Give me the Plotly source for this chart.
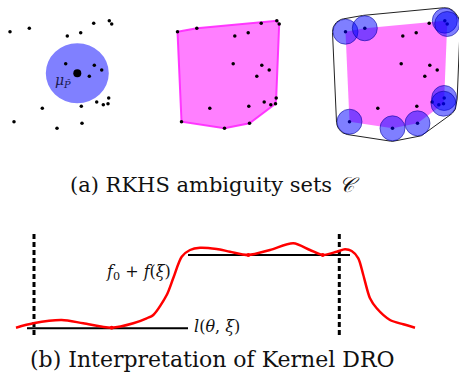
import numpy as np
import plotly.graph_objects as go

W, H = 459, 373

# ---- data: sample points (panel-1 coordinates, pixels) ----
pts_x = [10, 29.3, 67.3, 80.7, 93.7, 109.3, 111.7, 65.7, 94.3, 101.7, 89.3,
         96.7, 108.7, 103.3, 108, 81.3, 42.3, 14, 57, 82]
pts_y = [31.7, 28.3, 36, 32.7, 23.3, 20.7, 24, 63.7, 65.3, 70, 76.3,
         102, 98, 104.7, 103.7, 106.3, 108.3, 121.7, 128.3, 123.3]
mean_x, mean_y = 77.3, 73.3
ball_r = 30.5
panel_offsets = [0, 167.5, 335.5]
local_r = 12.5

# ---- data: panel (b) ----
curve_x = [16, 33.3, 61.7, 83.3, 111.7, 133.3, 146.7, 153.3, 166.7, 173.3, 181.7,
           190, 200, 216.7, 230, 248.3, 270, 293.3, 310, 322.7, 336.7, 345,
           351.7, 358.3, 363.3, 370, 376.7, 390, 403.3, 415]
curve_y = [327.7, 323.3, 320, 323.3, 327.7, 323.3, 318.3, 315, 295, 278, 256.7,
           250, 247.7, 249, 251.7, 255, 250, 243.3, 250, 255, 251.7, 249.3,
           251, 258.3, 275, 298.3, 308.3, 320, 324.3, 327.7]
touch_x = [111.7, 248.3, 322.7]
touch_y = [327.7, 255, 255]
loss_low = (27, 188, 328.3)
loss_high = (188, 350, 255)
support_x = [34, 339.3]
support_y = (234, 335)


def hull(xs, ys):
    P = sorted(set(zip(xs, ys)))
    def cross(o, a, b):
        return (a[0]-o[0])*(b[1]-o[1]) - (a[1]-o[1])*(b[0]-o[0])
    lower, upper = [], []
    for p in P:
        while len(lower) >= 2 and cross(lower[-2], lower[-1], p) <= 0:
            lower.pop()
        lower.append(p)
    for p in reversed(P):
        while len(upper) >= 2 and cross(upper[-2], upper[-1], p) <= 0:
            upper.pop()
        upper.append(p)
    return lower[:-1] + upper[:-1]


hv = hull(pts_x, pts_y)
hx = [p[0] for p in hv]
hy = [p[1] for p in hv]

fig = go.Figure()
shapes = []
serif = "DejaVu Serif"

# panel 1: ball
shapes.append(dict(type="circle", xref="x", yref="y", x0=mean_x-ball_r-1, x1=mean_x+ball_r+1,
                   y0=mean_y-ball_r+0.5, y1=mean_y+ball_r-0.5,
                   fillcolor="rgb(128,128,255)", line=dict(width=0), layer="below"))

# panel 2: convex hull
o2 = panel_offsets[1]
fig.add_trace(go.Scatter(x=[x+o2 for x in hx]+[hx[0]+o2], y=hy+[hy[0]], mode="lines",
                         fill="toself", fillcolor="rgba(255,0,255,0.5)",
                         line=dict(color="rgba(255,40,255,0.9)", width=2), hoverinfo="skip"))

# panel 3: hull, local balls, outer envelope
o3 = panel_offsets[2]
fig.add_trace(go.Scatter(x=[x+o3 for x in hx]+[hx[0]+o3], y=hy+[hy[0]], mode="lines",
                         fill="toself", fillcolor="rgba(255,0,255,0.5)",
                         line=dict(width=0), hoverinfo="skip"))
for cx, cy in hv:
    shapes.append(dict(type="circle", xref="x", yref="y", x0=cx+o3-local_r, x1=cx+o3+local_r,
                       y0=cy-local_r, y1=cy+local_r, fillcolor="rgba(0,0,255,0.5)",
                       line=dict(color="rgba(0,0,150,0.55)", width=1), layer="above"))
ang = np.linspace(0, 2*np.pi, 90, endpoint=False)
ex, ey = [], []
for cx, cy in hv:
    ex += list(cx + o3 + (local_r+0.5)*np.cos(ang))
    ey += list(cy + (local_r+0.5)*np.sin(ang))
env = hull(ex, ey)
fig.add_trace(go.Scatter(x=[p[0] for p in env]+[env[0][0]], y=[p[1] for p in env]+[env[0][1]],
                         mode="lines", line=dict(color="#222", width=1), hoverinfo="skip"))

# dots on all panels
for off in panel_offsets:
    fig.add_trace(go.Scatter(x=[x+off for x in pts_x], y=pts_y, mode="markers",
                             marker=dict(color="black", size=3.5), hoverinfo="skip"))
fig.add_trace(go.Scatter(x=[mean_x], y=[mean_y], mode="markers",
                         marker=dict(color="black", size=8), hoverinfo="skip"))

# panel (b)
for sx in support_x:
    fig.add_trace(go.Scatter(x=[sx, sx], y=list(support_y), mode="lines",
                             line=dict(color="black", width=3, dash="5px,3px"), hoverinfo="skip"))
for (a, b, yy) in [loss_low, loss_high]:
    fig.add_trace(go.Scatter(x=[a, b], y=[yy, yy], mode="lines",
                             line=dict(color="black", width=2), hoverinfo="skip"))
fig.add_trace(go.Scatter(x=curve_x, y=curve_y, mode="lines", line=dict(color="red", width=2.5, shape="spline", smoothing=0.8),
                         hoverinfo="skip"))
fig.add_trace(go.Scatter(x=touch_x, y=touch_y, mode="markers", marker=dict(color="red", size=4),
                         hoverinfo="skip"))

ann = [
    dict(x=63, y=81, text="<i>μ</i><sub><i>P̂</i></sub>", font=dict(size=14, color="#1a1a50", family=serif),
         xanchor="center", yanchor="middle"),
    dict(x=215, y=185, text="(a) RKHS ambiguity sets <i>𝒞</i>", font=dict(size=21, color="#111", family=serif),
         xanchor="center", yanchor="middle"),
    dict(x=212, y=359, text="(b) Interpretation of Kernel DRO", font=dict(size=22, color="#111", family=serif),
         xanchor="center", yanchor="middle"),
    dict(x=192, y=326, text="<i>l</i>(<i>θ</i>, <i>ξ</i>)", font=dict(size=16, color="#111", family=serif),
         xanchor="left", yanchor="middle"),
    dict(x=173, y=272, text="<i>f</i><sub>0</sub> + <i>f</i>(<i>ξ</i>)", font=dict(size=16, color="#111", family=serif),
         xanchor="right", yanchor="middle"),
]
for a in ann:
    a.update(xref="x", yref="y", showarrow=False)

fig.update_layout(width=W, height=H, margin=dict(l=0, r=0, t=0, b=0),
                  paper_bgcolor="white", plot_bgcolor="white", showlegend=False,
                  shapes=shapes, annotations=ann,
                  xaxis=dict(range=[0, W], visible=False, fixedrange=True),
                  yaxis=dict(range=[H, 0], visible=False, fixedrange=True))
fig.write_html("out.html", config={"displayModeBar": False, "staticPlot": True},
               post_script="document.body.style.margin='0';document.body.style.overflow='hidden';")
